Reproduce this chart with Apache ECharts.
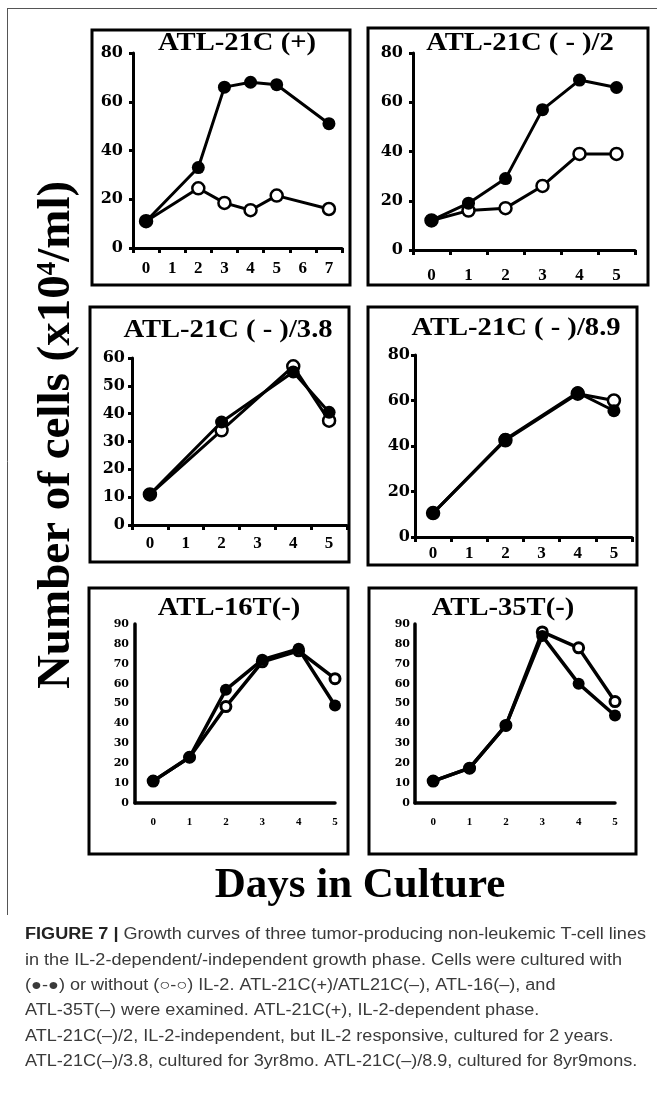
<!DOCTYPE html>
<html><head><meta charset="utf-8">
<script src="https://cdn.jsdelivr.net/npm/echarts@6/dist/echarts.min.js"></script>
<style>html,body{margin:0;padding:0;background:#fff}#c{width:657px;height:1101px}</style>
</head><body><div id="c"></div>
<script>
// ---- data ----
const days8 = ['0','1','2','3','4','5','6','7'];
const days6 = ['0','1','2','3','4','5'];
const titles = ['ATL-21C (+)', 'ATL-21C ( - )/2', 'ATL-21C ( - )/3.8', 'ATL-21C ( - )/8.9', 'ATL-16T(-)', 'ATL-35T(-)'];
// with IL-2 (filled) / without IL-2 (open)
const p1With    = [11, null, 33, 66, 68, 67, null, 51];
const p1Without = [11, null, 24.5, 18.5, 15.5, 21.5, null, 16];
const p2With    = [12, 19, 29, 57, 69, 66];
const p2Without = [12, 16, 17, 26, 39, 39];
const p3With    = [11, null, 37, null, 55, 40.5];
const p3Without = [11, null, 34, null, 57, 37.5];
const p4With    = [10.5, null, 43, null, 63.5, 55.5];
const p4Without = [10.5, null, 42.5, null, 63, 60];
const p5With    = [11, 23, 57, 72, 77.5, 49];
const p5Without = [11, 23, 48.5, 71, 76.5, 62.5];
const p6With    = [11, 17.5, 39, 84, 60, 44];
const p6Without = [11, 17.5, 39, 86, 78, 51];
const yMax = [80, 80, 60, 80, 90, 90];
const yStep = [20, 20, 10, 20, 10, 10];
const axisTitleY = 'Number of cells (x10';
const axisTitleX = 'Days in Culture';
const captionLines = [
  '{b|FIGURE 7 |} Growth curves of three tumor-producing non-leukemic T-cell lines',
  'in the IL-2-dependent/-independent growth phase. Cells were cultured with',
  '(●-●) or without (○-○) IL-2. ATL-21C(+)/ATL21C(–), ATL-16(–), and',
  'ATL-35T(–) were examined. ATL-21C(+), IL-2-dependent phase.',
  'ATL-21C(–)/2, IL-2-independent, but IL-2 responsive, cultured for 2 years.',
  'ATL-21C(–)/3.8, cultured for 3yr8mo. ATL-21C(–)/8.9, cultured for 8yr9mons.'
];

// ---- layout ----
const SERIF = '"Liberation Serif", "Times New Roman", serif';
const WSERIF = '"DejaVu Serif", serif';
const SANS = '"Liberation Sans", Arial, sans-serif';
const grids = [
  {left:133, top:53, width:209, height:195},
  {left:413, top:53, width:222, height:197},
  {left:132, top:358, width:215, height:167},
  {left:415, top:355, width:217, height:182},
  {left:135, top:624, width:200, height:179},
  {left:415, top:624, width:200, height:179}
];
const frames = [
  [92, 30, 258, 255], [368, 28, 280, 257],
  [90, 307, 259, 255], [368, 307, 269, 258],
  [89, 588, 259, 266], [369, 588, 267, 266]
];
const titlePos = [[237,43],[520,43],[228,330],[516,328],[229,608],[503,608]];
const xMargins = [12, 17, 10, 8, 14, 14];
const yMargins = [10, 10, 7, 5, 6, 5];

const xAxes = [], yAxes = [], series = [];
const cats = [days8, days6, days6, days6];
const withData = [p1With, p2With, p3With, p4With, p5With, p6With];
const withoutData = [p1Without, p2Without, p3Without, p4Without, p5Without, p6Without];

for (let i = 0; i < 6; i++) {
  const small = i >= 4;
  if (!small) {
    xAxes.push({
      type:'category', gridIndex:i, data:cats[i], boundaryGap:true,
      axisLine:{lineStyle:{color:'#000', width:3}},
      axisTick:{show:true, length:5, inside:false, lineStyle:{color:'#000', width:3}},
      axisLabel:{color:'#000', fontFamily:SERIF, fontWeight:'bold', fontSize:17, margin:xMargins[i]},
      splitLine:{show:false}
    });
  } else {
    xAxes.push({
      type:'value', gridIndex:i, min:-0.5, max:5, interval:0.5,
      axisLine:{onZero:false, lineStyle:{color:'#000', width:3.5}},
      axisTick:{show:false},
      axisLabel:{color:'#000', fontFamily:SERIF, fontWeight:'bold', fontSize:11, margin:xMargins[i],
        formatter: v => (Math.abs(v - Math.round(v)) < 1e-6 && v >= 0) ? days6[Math.round(v)] : ''},
      splitLine:{show:false}
    });
  }
  yAxes.push({
    type:'value', gridIndex:i, min:0, max:yMax[i], interval:yStep[i],
    axisLine:{show:true, onZero:false, lineStyle:{color:'#000', width: small ? 3.5 : 3}},
    axisTick:{show:!small, length:4, lineStyle:{color:'#000', width:3}},
    axisLabel:{color:'#000', fontFamily:WSERIF, fontWeight:'bold', fontSize: small ? 11 : 16, margin:yMargins[i]},
    splitLine:{show:false}
  });
  const toData = arr => small ? arr.map((v, k) => [k, v]) : arr;
  const lw = small ? 3.5 : 3;
  series.push({
    type:'line', xAxisIndex:i, yAxisIndex:i, data:toData(withoutData[i]), connectNulls:true,
    symbol:'circle', symbolSize: small ? 10 : 12,
    lineStyle:{color:'#000', width:lw},
    itemStyle:{color:'#fff', borderColor:'#000', borderWidth: small ? 3 : 2.5},
    z:2, animation:false
  });
  series.push({
    type:'line', xAxisIndex:i, yAxisIndex:i, data:toData(withData[i]), connectNulls:true,
    symbol:'circle', symbolSize: small ? 12 : 13,
    lineStyle:{color:'#000', width:lw},
    itemStyle:{color:'#000', borderColor:'#000', borderWidth:0},
    z:3, animation:false
  });
}

const graphics = [];
// outer frame
graphics.push({type:'line', shape:{x1:7, y1:8.5, x2:657, y2:8.5}, style:{stroke:'#555', lineWidth:1}, z:50});
graphics.push({type:'line', shape:{x1:7.5, y1:8, x2:7.5, y2:915}, style:{stroke:'#555', lineWidth:1}, z:50});
frames.forEach(f => graphics.push({type:'rect', shape:{x:f[0], y:f[1], width:f[2], height:f[3]},
  style:{fill:'none', stroke:'#000', lineWidth:3}, z:100}));
titles.forEach((t, i) => graphics.push({type:'text', x:titlePos[i][0], y:titlePos[i][1], scaleX:1.1, z:101,
  style:{text:t, fill:'#000', font:'bold 26px ' + SERIF, textAlign:'center', textVerticalAlign:'middle'}}));
// y axis title
graphics.push({type:'text', x:57, y:435, rotation:Math.PI/2, z:101,
  style:{text:'{n|' + axisTitleY + '}{s|4}{n|/ml)}', textAlign:'center', textVerticalAlign:'middle', fill:'#000',
    rich:{n:{fontFamily:SERIF, fontWeight:'bold', fontSize:47, fill:'#000'},
          s:{fontFamily:SERIF, fontWeight:'bold', fontSize:27, fill:'#000', padding:[0,0,18,0]}}}});
graphics.push({type:'text', x:360, y:886, z:101,
  style:{text:axisTitleX, fill:'#000', font:'bold 43px ' + SERIF, textAlign:'center', textVerticalAlign:'middle'}});
captionLines.forEach((t, k) => graphics.push({type:'text', x:25, y:935 + k*25.3, scaleX:1.13, z:101,
  style:{text:t, fill:'#3a3a3a', fontFamily:SANS, fontSize:16,
    textVerticalAlign:'middle',
    rich:{b:{fontFamily:SANS, fontSize:16, fontWeight:'bold', fill:'#222'}}}}));

const chart = echarts.init(document.getElementById('c'), null, {renderer:'canvas'});
chart.setOption({
  backgroundColor:'#fff', animation:false,
  grid: grids.map(g => Object.assign({containLabel:false}, g)),
  xAxis:xAxes, yAxis:yAxes, series:series, graphic:graphics
});
</script></body></html>
